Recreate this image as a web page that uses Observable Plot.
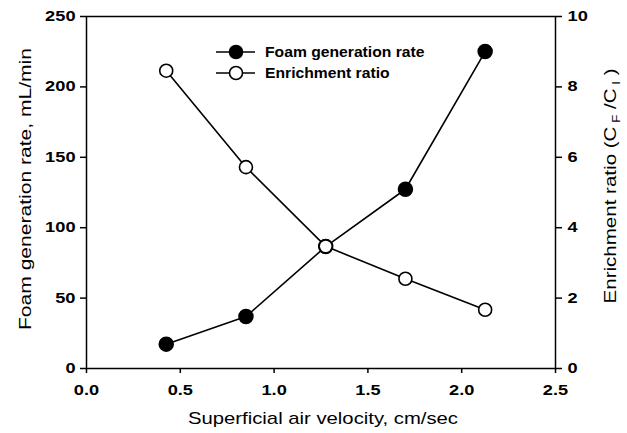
<!DOCTYPE html>
<html>
<head>
<meta charset="utf-8">
<script src="https://cdn.jsdelivr.net/npm/d3@7"></script>
<script src="https://cdn.jsdelivr.net/npm/@observablehq/plot@0.6"></script>
<style>
  html, body { margin: 0; padding: 0; background: #fff; }
  #chart svg { display: block; }
</style>
</head>
<body>
<div id="chart"></div>
<script>
const velocity = [0.425, 0.85, 1.275, 1.7, 2.125];
const foamRate = [17.3, 36.9, 86.6, 127.3, 225.1];
const enrichment = [8.46, 5.72, 3.47, 2.55, 1.67];
const xTicks = [0, 0.5, 1.0, 1.5, 2.0, 2.5];
const yLeftTicks = [0, 50, 100, 150, 200, 250];
const yRightTicks = [0, 2, 4, 6, 8, 10];
const xTitle = "Superficial air velocity, cm/sec";
const yLeftTitle = "Foam generation rate, mL/min";
const seriesNames = ["Foam generation rate", "Enrichment ratio"];

const ratio = 25; // right axis 0-10 mapped onto left axis 0-250
const foamRows = velocity.map((v, i) => ({x: v, y: foamRate[i]}));
const enrRows = velocity.map((v, i) => ({x: v, y: enrichment[i] * ratio}));

const W = 627, H = 433;
const tickFont = {fontSize: 14, fontWeight: "bold", fontFamily: "Liberation Sans, Arial, sans-serif", fill: "#000"};

const chart = Plot.plot({
  width: W, height: H,
  marginLeft: 86, marginRight: 72, marginTop: 16, marginBottom: 65,
  style: {fontFamily: "Liberation Sans, Arial, sans-serif", background: "#fff", color: "#000"},
  x: {domain: [0, 2.5]},
  y: {domain: [0, 250]},
  marks: [
    Plot.frame({stroke: "#000", strokeWidth: 1.5}),
    Plot.axisX({ticks: xTicks, tickFormat: d3.format(".1f"), tickSize: 5, tickPadding: 12, label: null, stroke: "#000", strokeWidth: 1.5, ...tickFont}),
    Plot.axisY({ticks: yLeftTicks, tickSize: 6, tickPadding: 5, label: null, stroke: "#000", strokeWidth: 1.5, ...tickFont}),
    Plot.axisY({anchor: "right", ticks: yRightTicks.map(d => d * ratio), tickFormat: d => d / ratio, tickSize: 6, tickPadding: 6, label: null, stroke: "#000", strokeWidth: 1.5, ...tickFont}),
    Plot.line(foamRows, {x: "x", y: "y", stroke: "#000", strokeWidth: 1.6}),
    Plot.line(enrRows, {x: "x", y: "y", stroke: "#000", strokeWidth: 1.6}),
    Plot.dot(foamRows, {x: "x", y: "y", r: 7, fill: "#000", stroke: "#000"}),
    Plot.dot(enrRows, {x: "x", y: "y", r: 6.5, fill: "#fff", stroke: "#000", strokeWidth: 1.6})
  ]
});

document.getElementById("chart").appendChild(chart);

// widen tick labels to match the stretched look of the original
d3.select(chart).selectAll("g[aria-label$='tick label'] text").each(function() {
  const len = this.getComputedTextLength();
  this.setAttribute("textLength", (len * 1.3).toFixed(1));
  this.setAttribute("lengthAdjust", "spacingAndGlyphs");
});

const svg = d3.select(chart);
const titleFont = "Liberation Sans, Arial, sans-serif";

svg.append("text")
  .attr("x", 323).attr("y", 424)
  .attr("text-anchor", "middle").attr("fill", "#000")
  .attr("textLength", 270).attr("lengthAdjust", "spacingAndGlyphs")
  .style("font-family", titleFont).style("font-size", "17px")
  .text(xTitle);

svg.append("text")
  .attr("transform", "translate(31,189) rotate(-90)")
  .attr("text-anchor", "middle").attr("fill", "#000")
  .attr("textLength", 282).attr("lengthAdjust", "spacingAndGlyphs")
  .style("font-family", titleFont).style("font-size", "17px")
  .text(yLeftTitle);

const rt = svg.append("text")
  .attr("transform", "translate(616,186) rotate(-90)")
  .attr("text-anchor", "middle").attr("fill", "#000")
  .attr("textLength", 235).attr("lengthAdjust", "spacingAndGlyphs")
  .style("font-family", titleFont).style("font-size", "17px");
rt.append("tspan").text("Enrichment ratio (C");
rt.append("tspan").attr("dy", 4).style("font-size", "11px").text(" F");
rt.append("tspan").attr("dy", -4).text(" /C");
rt.append("tspan").attr("dy", 4).style("font-size", "11px").text(" I");
rt.append("tspan").attr("dy", -4).text(" )");

// legend
const leg = svg.append("g");
const rows = [
  {label: seriesNames[0], y: 52, fill: "#000"},
  {label: seriesNames[1], y: 73, fill: "#fff"}
];
rows.forEach(r => {
  leg.append("line").attr("x1", 216).attr("x2", 255).attr("y1", r.y).attr("y2", r.y)
    .attr("stroke", "#000").attr("stroke-width", 1.6);
  leg.append("circle").attr("cx", 236).attr("cy", r.y).attr("r", 6.5)
    .attr("fill", r.fill).attr("stroke", "#000").attr("stroke-width", 1.6);
  const t = leg.append("text").attr("x", 265).attr("y", r.y).attr("dy", "0.35em")
    .attr("text-anchor", "start").attr("fill", "#000")
    .style("font-family", titleFont).style("font-size", "14px").style("font-weight", "bold")
    .text(r.label);
  const len = t.node().getComputedTextLength();
  t.attr("textLength", (len * 1.12).toFixed(1)).attr("lengthAdjust", "spacingAndGlyphs");
});
</script>
</body>
</html>
